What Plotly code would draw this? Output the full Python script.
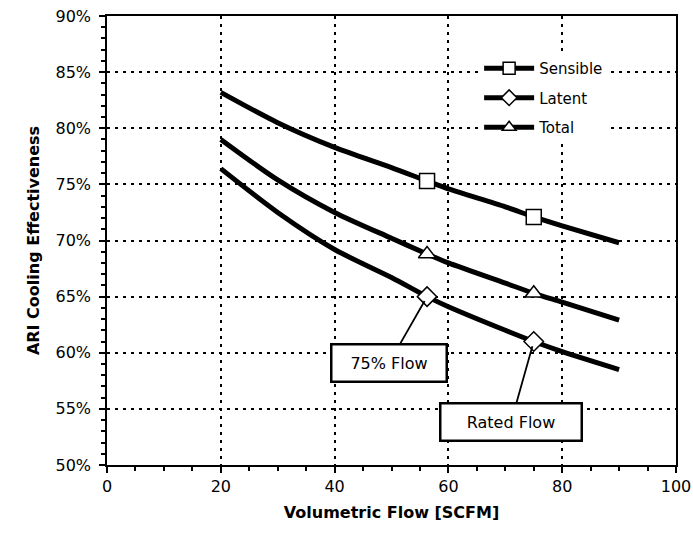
import plotly.graph_objects as go

# flow points along each curve [SCFM]
flow = [20, 30, 40, 50, 56.25, 60, 70, 75, 80, 90]
sensible = [83.2, 80.5, 78.3, 76.5, 75.3, 74.6, 73.0, 72.1, 71.3, 69.8]
latent = [76.4, 72.5, 69.2, 66.7, 65.0, 64.1, 62.0, 61.0, 60.1, 58.5]
total = [79.0, 75.4, 72.5, 70.2, 68.8, 68.0, 66.2, 65.3, 64.5, 62.9]

# marked points: 75% flow and rated flow
mark_flow = [56.25, 75]
series = [
    ("Sensible", sensible, "square"),
    ("Latent", latent, "diamond"),
    ("Total", total, "triangle-up"),
]

FONT = "DejaVu Sans"

fig = go.Figure()

for name, vals, sym in series:
    y = [v / 100 for v in vals]
    fig.add_trace(go.Scatter(x=flow, y=y, mode="lines",
                             line=dict(color="black", width=5, shape="spline", smoothing=0.8),
                             showlegend=False, legendgroup=name))
    my = [y[flow.index(f)] for f in mark_flow]
    fig.add_trace(go.Scatter(x=mark_flow, y=my, mode="markers", showlegend=False, legendgroup=name,
                             marker=dict(symbol=sym, size=15, color="white",
                                         line=dict(color="black", width=1.5))))
    # legend entry only
    fig.add_trace(go.Scatter(x=[None], y=[None], mode="lines+markers", name=name, legendgroup=name,
                             line=dict(color="black", width=5),
                             marker=dict(symbol=sym, size=12, color="white",
                                         line=dict(color="black", width=1.5))))

# callout boxes pointing at the latent markers
callouts = [
    ("75% Flow", 49.6, 0.591, 105, mark_flow[0], latent[flow.index(56.25)] / 100),
    ("Rated Flow", 71.0, 0.538, 131, mark_flow[1], latent[flow.index(75)] / 100),
]
for txt, tx, ty, w, px, py in callouts:
    fig.add_annotation(x=px, y=py, ax=tx, ay=ty, axref="x", ayref="y", xref="x", yref="y",
                       text=txt, showarrow=True, arrowhead=0, arrowwidth=1.8, arrowcolor="black",
                       standoff=5, bordercolor="black", borderwidth=2.5, bgcolor="white",
                       borderpad=4, width=w, height=27,
                       font=dict(family=FONT, size=16, color="black"))

axis_common = dict(
    showline=True, linecolor="black", linewidth=1.5, mirror=True,
    ticks="outside", ticklen=6, tickcolor="black", tickwidth=1.5,
    showgrid=True, gridcolor="black", griddash="3px,5px", gridwidth=1.8,
    zeroline=False, automargin=False, ticklabeloverflow="allow",
    tickfont=dict(family=FONT, size=16, color="black"),
)

fig.update_xaxes(range=[0, 100], dtick=20, tick0=0,
                 minor=dict(dtick=5, ticks="outside", ticklen=4, tickcolor="black", showgrid=False),
                 title=dict(text="<b>Volumetric Flow [SCFM]</b>", font=dict(family=FONT, size=16, color="black"),
                            standoff=12),
                 **axis_common)
fig.update_yaxes(range=[0.5, 0.9], dtick=0.05, tick0=0.5, tickformat=".0%", ticklabelstandoff=5,
                 minor=dict(dtick=0.01, ticks="outside", ticklen=4, tickcolor="black", showgrid=False),
                 title=dict(text="<b>ARI Cooling Effectiveness</b>", font=dict(family=FONT, size=16, color="black"),
                            standoff=12),
                 **axis_common)

fig.update_layout(
    width=693, height=543,
    margin=dict(l=107, r=17, t=16, b=78),
    plot_bgcolor="white", paper_bgcolor="white",
    font=dict(family=FONT, size=15, color="black"),
    legend=dict(x=0.654, y=0.92, xanchor="left", yanchor="top", bgcolor="white",
                font=dict(family=FONT, size=15, color="black"), itemwidth=50,
                tracegroupgap=7),
)

# drop the default page margin so the figure sits at the window's corner
fig.write_html("out.html", config={"displayModeBar": False},
               post_script="document.body.style.margin='0px';document.body.style.overflow='hidden';")
